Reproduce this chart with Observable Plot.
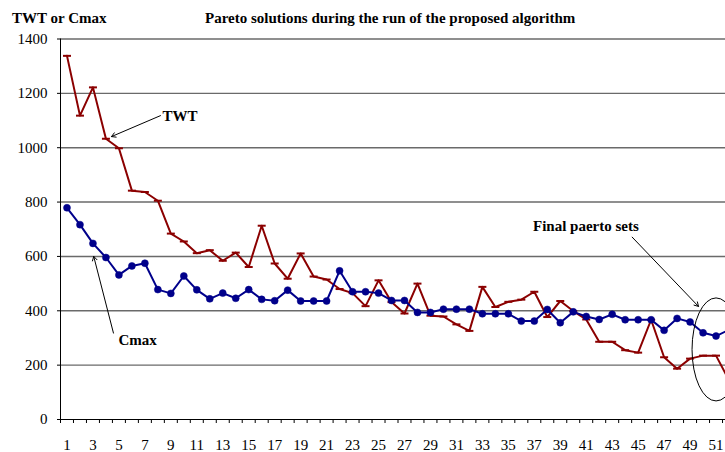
<!DOCTYPE html>
<html>
<head>
<meta charset="utf-8">
<script src="https://cdn.jsdelivr.net/npm/d3@7"></script>
<script src="https://cdn.jsdelivr.net/npm/@observablehq/plot@0.6"></script>
<style>
  html, body { margin: 0; padding: 0; background: #fff; overflow: hidden; }
  #wrap { position: relative; width: 725px; height: 452px; font-family: "Liberation Serif", "Times New Roman", serif; }
  .lbl { position: absolute; font-weight: bold; font-size: 15px; line-height: 15px; white-space: nowrap; color: #000; }
  svg { overflow: hidden; }
  svg text { font-family: "Liberation Serif", "Times New Roman", serif !important; }
</style>
</head>
<body>
<div id="wrap">
  <div class="lbl" style="left:12px; top:11px;">TWT or Cmax</div>
  <div class="lbl" style="left:205px; top:11px;">Pareto solutions during the run of the proposed algorithm</div>
</div>
<script>
// ---- data ----
const iterations = d3.range(1, 53);
const twt = [1338, 1118, 1222, 1033, 998, 842, 837, 805, 684, 655,
             612, 623, 584, 614, 561, 713, 574, 518, 611, 526,
             515, 480, 465, 417, 512, 432, 390, 500, 382, 379,
             350, 326, 488, 414, 433, 441, 470, 377, 436, 399,
             368, 286, 286, 255, 246, 367, 229, 187, 224, 235,
             235, 145];
const cmax = [779, 717, 648, 596, 532, 565, 575, 478, 464, 528,
              477, 444, 465, 446, 478, 442, 437, 476, 436, 436,
              436, 547, 470, 470, 465, 438, 438, 394, 394, 406,
              406, 406, 389, 389, 389, 362, 362, 405, 356, 396,
              379, 368, 387, 367, 367, 367, 328, 372, 359, 319,
              307, 330];
const yTicks = [0, 200, 400, 600, 800, 1000, 1200, 1400];
const xLabels = d3.range(1, 52, 2);
const xTickPositions = d3.range(0.5, 53, 1);

const labels = [
  {x: 8.36, y: 1115, text: "TWT"},
  {x: 4.97, y: 291, text: "Cmax"},
  {x: 36.9, y: 710, text: "Final paerto sets"}
];
const arrows = [
  {x1: 8.20, y1: 1118, x2: 4.43, y2: 1041},
  {x1: 4.58, y1: 318, x2: 3.06, y2: 600},
  {x1: 44.54, y1: 671, x2: 49.65, y2: 416}
];
const ellipses = [{cx: 51.04, cy: 256, rx: 1.85, ry: 189.5}];

const rows = iterations.map((it, k) => ({it, twt: twt[k], cmax: cmax[k]}));

const RED = "#8B0000";
const BLUE = "#00008B";
const dash = { draw(ctx, size) { const r = Math.sqrt(size / Math.PI); ctx.moveTo(-r, 0); ctx.lineTo(r, 0); } };

const ellipseMark = (index, scales) => {
  const g = d3.create("svg:g");
  for (const e of ellipses) {
    const cx = scales.x(e.cx), cy = scales.y(e.cy);
    g.append("ellipse")
      .attr("cx", cx).attr("cy", cy)
      .attr("rx", Math.abs(scales.x(e.cx + e.rx) - cx))
      .attr("ry", Math.abs(scales.y(e.cy + e.ry) - cy))
      .attr("fill", "none").attr("stroke", "#000").attr("stroke-width", 1);
  }
  return g.node();
};

const chart = Plot.plot({
  width: 725,
  height: 452,
  marginTop: 38.5,
  marginBottom: 33,
  marginLeft: 60,
  marginRight: 0,
  style: {fontFamily: '"Liberation Serif", "Times New Roman", serif', fontSize: "15px", color: "#000", background: "#fff"},
  x: {domain: [0.5, 52.5], range: [60, 735]},
  y: {domain: [0, 1400]},
  marks: [
    Plot.ruleY(yTicks.filter(d => d > 0), {stroke: "#6a6a6a", strokeWidth: 1.4}),
    Plot.ruleY([0], {stroke: "#000", strokeWidth: 1}),
    Plot.ruleX([0.5], {y1: 0, y2: 1400, stroke: "#000", strokeWidth: 1}),
    Plot.axisY({ticks: yTicks, tickSize: 3, tickPadding: 10, tickFormat: d => String(d), label: null, stroke: "#000"}),
    Plot.axisX({ticks: xTickPositions, tickSize: 4, tickFormat: () => "", label: null}),
    Plot.axisX({ticks: xLabels, tickSize: 0, tickPadding: 20, tickFormat: d => String(d), label: null}),
    Plot.line(rows, {x: "it", y: "twt", stroke: RED, strokeWidth: 2}),
    Plot.dot(rows, {x: "it", y: "twt", symbol: dash, r: 4, stroke: RED, strokeWidth: 2, fill: "none"}),
    Plot.line(rows, {x: "it", y: "cmax", stroke: BLUE, strokeWidth: 2}),
    Plot.dot(rows, {x: "it", y: "cmax", r: 3.5, fill: BLUE, stroke: BLUE, strokeWidth: 0.5}),
    Plot.arrow(arrows, {x1: "x1", y1: "y1", x2: "x2", y2: "y2", stroke: "#000", strokeWidth: 1, headLength: 7}),
    ellipseMark,
    Plot.text(labels, {x: "x", y: "y", text: "text", textAnchor: "start", fontWeight: "bold", fontSize: 15, fill: "#000"})
  ]
});
chart.style.position = "absolute";
chart.style.left = "0px";
chart.style.top = "0px";
document.getElementById("wrap").insertBefore(chart, document.getElementById("wrap").firstChild);
</script>
</body>
</html>
